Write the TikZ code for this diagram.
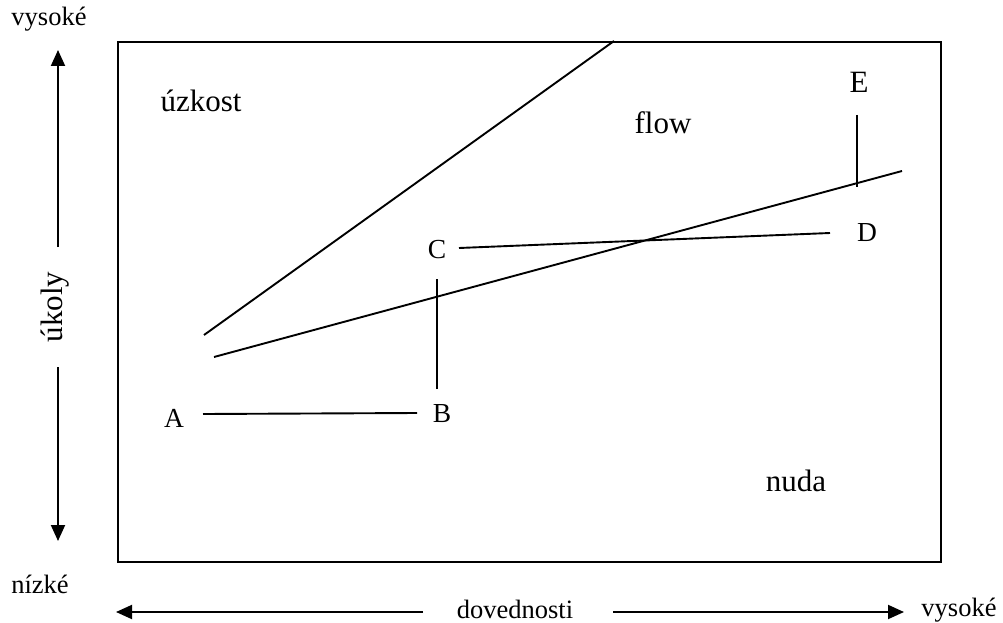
\documentclass[tikz,border=0pt]{standalone}
\usepackage{fontspec}
\setmainfont{Liberation Serif}
\usetikzlibrary{arrows.meta}
\begin{document}
\begin{tikzpicture}[x=1pt,y=-1pt,
  lbl/.style={inner sep=0pt,font=\fontsize{26.5}{30}\selectfont},
  big/.style={inner sep=0pt,font=\fontsize{31}{36}\selectfont},
  pt/.style={inner sep=0pt,font=\fontsize{27.5}{32}\selectfont},
  ln/.style={line width=1.9pt},
  arr/.style={line width=1.9pt,-{Triangle[length=16pt,width=14pt]}}]
\useasboundingbox (0,0) rectangle (1003,623);
\node[draw,line width=1.9pt,minimum width=823pt,minimum height=520pt,inner sep=0pt,anchor=north west] (frame) at (117,41) {};
% axis labels
\node[lbl] (vtop) at (49,19) {vysoké};
\node[lbl] (vbot) at (40,584) {nízké};
\node[big,rotate=90] (ukoly) at (55,307) {úkoly};
\node[lbl] (dov) at (515,609) {dovednosti};
\node[lbl] (vright) at (959,610) {vysoké};
\coordinate (u1) at (58,247);
\coordinate (u2) at (58,50);
\coordinate (d1) at (58,367);
\coordinate (d2) at (58,541);
\coordinate (l1) at (423,612);
\coordinate (l2) at (116,612);
\coordinate (r1) at (613,612);
\coordinate (r2) at (904,612);
\draw[arr] (u1) -- (u2);
\draw[arr] (d1) -- (d2);
\draw[arr] (l1) -- (l2);
\draw[arr] (r1) -- (r2);
% region labels
\node[big] (uzkost) at (201,101) {úzkost};
\node[big] (flow) at (663,123) {flow};
\node[big] (nuda) at (796,481) {nuda};
\node[pt] (A) at (174,418) {A};
\node[pt] (B) at (442,414) {B};
\node[pt] (C) at (437,250) {C};
\node[pt] (D) at (867,233) {D};
\node[big] (E) at (859,82) {E};
% lines
\coordinate (s1) at (204,335);
\coordinate (s2) at (614,41);
\coordinate (f1) at (214,357);
\coordinate (f2) at (902,171);
\coordinate (ab1) at (203,414);
\coordinate (ab2) at (417,413);
\coordinate (bc1) at (437,389);
\coordinate (bc2) at (437,279);
\coordinate (cd1) at (459,248);
\coordinate (cd2) at (830,233);
\coordinate (e1) at (857,115);
\coordinate (e2) at (857,187);
\draw[ln] (s1) -- (s2);
\draw[ln] (f1) -- (f2);
\draw[ln] (ab1) -- (ab2);
\draw[ln] (bc1) -- (bc2);
\draw[ln] (cd1) -- (cd2);
\draw[ln] (e1) -- (e2);
\end{tikzpicture}
\end{document}
